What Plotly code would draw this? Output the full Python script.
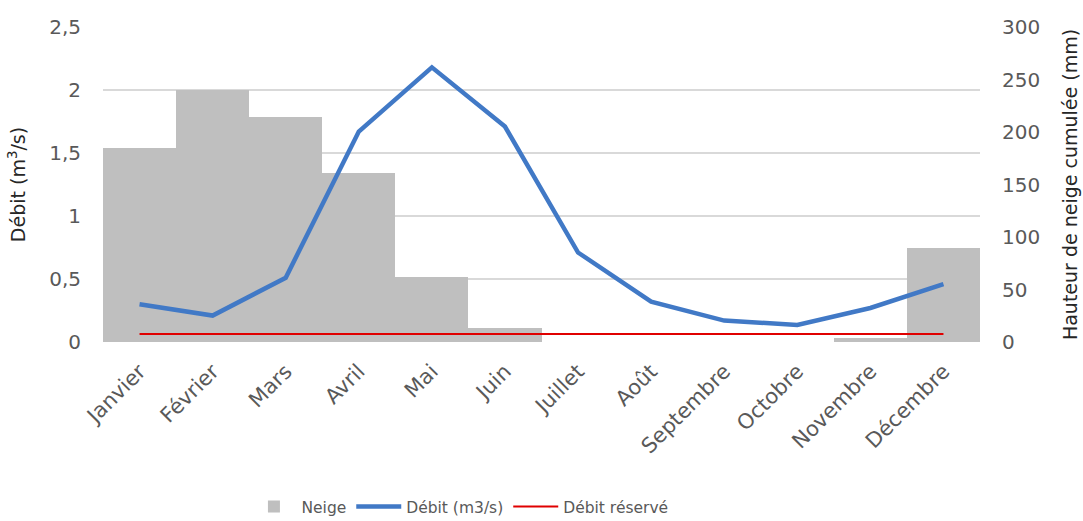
import plotly.graph_objects as go

# Mois de l'année
mois = ["Janvier", "Février", "Mars", "Avril", "Mai", "Juin", "Juillet",
        "Août", "Septembre", "Octobre", "Novembre", "Décembre"]

# Hauteur de neige cumulée (mm) - axe de droite
neige = [185, 240, 214, 161, 62, 13, 0, 0, 0, 0, 4, 90]

# Débit moyen mensuel (m3/s) - axe de gauche
debit = [0.30, 0.21, 0.51, 1.67, 2.18, 1.71, 0.71, 0.32, 0.17, 0.135, 0.27, 0.46]

# Débit réservé (m3/s)
debit_reserve = [0.063, 0.063, 0.063, 0.063, 0.063, 0.063,
                 0.063, 0.063, 0.063, 0.063, 0.063, 0.063]

# Graduations
ticks_gauche = [0, 0.5, 1, 1.5, 2, 2.5]
labels_gauche = ["0", "0,5", "1", "1,5", "2", "2,5"]
ticks_droite = [0, 50, 100, 150, 200, 250, 300]

FONT = "DejaVu Sans"
GRIS_TEXTE = "#595959"
GRIS_TITRE = "#262626"

fig = go.Figure()

# Neige en colonnes (axe de droite, dessiné en premier donc sous les courbes)
fig.add_trace(go.Bar(
    x=mois, y=neige, name="Neige", yaxis="y",
    marker=dict(color="#BFBFBF", line=dict(width=0)),
))
fig.add_trace(go.Scatter(
    x=mois, y=debit, name="Débit (m3/s)", yaxis="y2", mode="lines",
    line=dict(color="#4179C6", width=4.5),
))
fig.add_trace(go.Scatter(
    x=mois, y=debit_reserve, name="Débit réservé", yaxis="y2", mode="lines",
    line=dict(color="#E00000", width=2),
))

fig.update_layout(
    width=1083, height=521,
    margin=dict(l=103, r=103, t=27, b=179),
    paper_bgcolor="white", plot_bgcolor="white",
    font=dict(family=FONT, size=17, color=GRIS_TEXTE),
    bargap=0,
    showlegend=True,
    legend=dict(orientation="h", xref="paper", x=0.407, xanchor="center",
                yref="container", y=0.027, yanchor="middle",
                font=dict(family=FONT, size=15.5, color=GRIS_TEXTE),
                traceorder="normal", itemwidth=45),
    xaxis=dict(
        type="category", tickangle=-45, showgrid=False, zeroline=False,
        showline=False, ticks="", automargin=False, ticklabelstandoff=12,
        tickfont=dict(family=FONT, size=21, color=GRIS_TEXTE),
    ),
    yaxis=dict(
        side="right", range=[0, 300], tickvals=ticks_droite,
        showgrid=False, zeroline=False, ticks="", ticklabelstandoff=21,
        automargin=False,
        tickfont=dict(family=FONT, size=20, color=GRIS_TEXTE),
        title=dict(text="Hauteur de neige cumulée (mm)", standoff=24,
                   font=dict(family=FONT, size=19, color=GRIS_TITRE)),
    ),
    yaxis2=dict(
        side="left", overlaying="y", range=[0, 2.5],
        tickvals=ticks_gauche, ticktext=labels_gauche,
        showgrid=True, gridcolor="#D9D9D9", gridwidth=1.5,
        zeroline=False, ticks="", ticklabelstandoff=21,
        automargin=False,
        tickfont=dict(family=FONT, size=20, color=GRIS_TEXTE),
        title=dict(text="Débit (m<sup>3</sup>/s)", standoff=18,
                   font=dict(family=FONT, size=19, color=GRIS_TITRE)),
    ),
)

fig.write_html("out.html")
